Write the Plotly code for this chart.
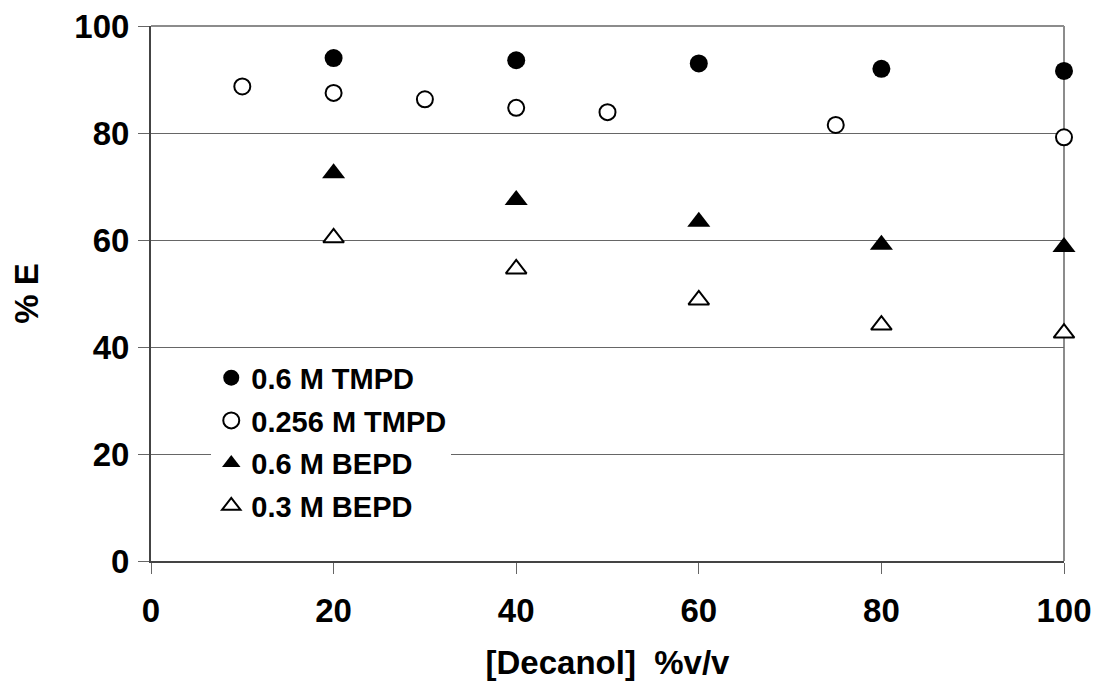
import plotly.graph_objects as go

# Data
x_tmpd_06 = [20, 40, 60, 80, 100]
y_tmpd_06 = [94.0, 93.6, 93.0, 92.0, 91.6]

x_tmpd_0256 = [10, 20, 30, 40, 50, 75, 100]
y_tmpd_0256 = [88.7, 87.5, 86.3, 84.7, 83.9, 81.5, 79.2]

x_bepd_06 = [20, 40, 60, 80, 100]
y_bepd_06 = [72.5, 67.5, 63.4, 59.1, 58.7]

x_bepd_03 = [20, 40, 60, 80, 100]
y_bepd_03 = [60.4, 54.6, 48.8, 44.1, 42.6]

series_names = ["0.6 M TMPD", "0.256 M TMPD", "0.6 M BEPD", "0.3 M BEPD"]
x_ticks = [0, 20, 40, 60, 80, 100]
y_ticks = [0, 20, 40, 60, 80, 100]

FONT = "Liberation Sans, Arial, sans-serif"

fig = go.Figure()

fig.add_trace(go.Scatter(
    x=x_tmpd_06, y=y_tmpd_06, mode="markers", name=series_names[0],
    legendgroup="a", cliponaxis=False,
    marker=dict(symbol="circle", size=18, color="black", line=dict(width=0)),
))
fig.add_trace(go.Scatter(
    x=x_tmpd_0256, y=y_tmpd_0256, mode="markers", name=series_names[1],
    legendgroup="b", cliponaxis=False,
    marker=dict(symbol="circle", size=16, color="white", line=dict(width=2, color="black")),
))
fig.add_trace(go.Scatter(
    x=x_bepd_06, y=y_bepd_06, mode="markers", name=series_names[2],
    legendgroup="c", cliponaxis=False,
    marker=dict(symbol="triangle-up", size=20, color="black", line=dict(width=0)),
))
fig.add_trace(go.Scatter(
    x=x_bepd_03, y=y_bepd_03, mode="markers", name=series_names[3],
    legendgroup="d", cliponaxis=False,
    marker=dict(symbol="triangle-up", size=18, color="white", line=dict(width=2, color="black")),
))

# plot area border (grey) on top and right
fig.add_shape(type="line", xref="paper", yref="paper", x0=0, x1=1, y0=1, y1=1,
              line=dict(color="#8c8c8c", width=2), layer="below")
fig.add_shape(type="line", xref="paper", yref="paper", x0=1, x1=1, y0=0, y1=1,
              line=dict(color="#8c8c8c", width=2), layer="below")

# page body has an 8px margin, so the figure is offset by 8px
fig.update_layout(
    width=1083, height=675,
    margin=dict(l=143, r=27, t=18, b=122),
    paper_bgcolor="white", plot_bgcolor="white",
    font=dict(family=FONT, color="black"),
    showlegend=True,
    legend=dict(
        x=0.066, y=0.390, xanchor="left", yanchor="top",
        bgcolor="white", borderwidth=0,
        font=dict(family=FONT, size=29, color="black", weight="bold"),
        tracegroupgap=2, itemwidth=30,
    ),
    xaxis=dict(
        range=[0, 100], tickvals=x_ticks, ticktext=[str(v) for v in x_ticks],
        showgrid=False, zeroline=False, automargin=False,
        showline=True, linecolor="#444444", linewidth=2,
        ticks="outside", ticklen=11, tickcolor="#666666", tickwidth=1,
        tickfont=dict(family=FONT, size=33, color="black", weight="bold"),
        ticklabelstandoff=8, ticklabeloverflow="allow",
        title=dict(text="[Decanol]  %v/v", standoff=23,
                   font=dict(family=FONT, size=33, color="black", weight="bold")),
    ),
    yaxis=dict(
        range=[0, 100], tickvals=y_ticks, ticktext=[str(v) for v in y_ticks],
        showgrid=True, gridcolor="#666666", gridwidth=1, zeroline=False, automargin=False,
        showline=True, linecolor="#444444", linewidth=2,
        ticks="outside", ticklen=11, tickcolor="#666666", tickwidth=1,
        tickfont=dict(family=FONT, size=33, color="black", weight="bold"),
        ticklabelstandoff=2, ticklabeloverflow="allow",
        title=dict(text="% E", standoff=27,
                   font=dict(family=FONT, size=33, color="black", weight="bold")),
    ),
)

fig.write_html("out.html")
